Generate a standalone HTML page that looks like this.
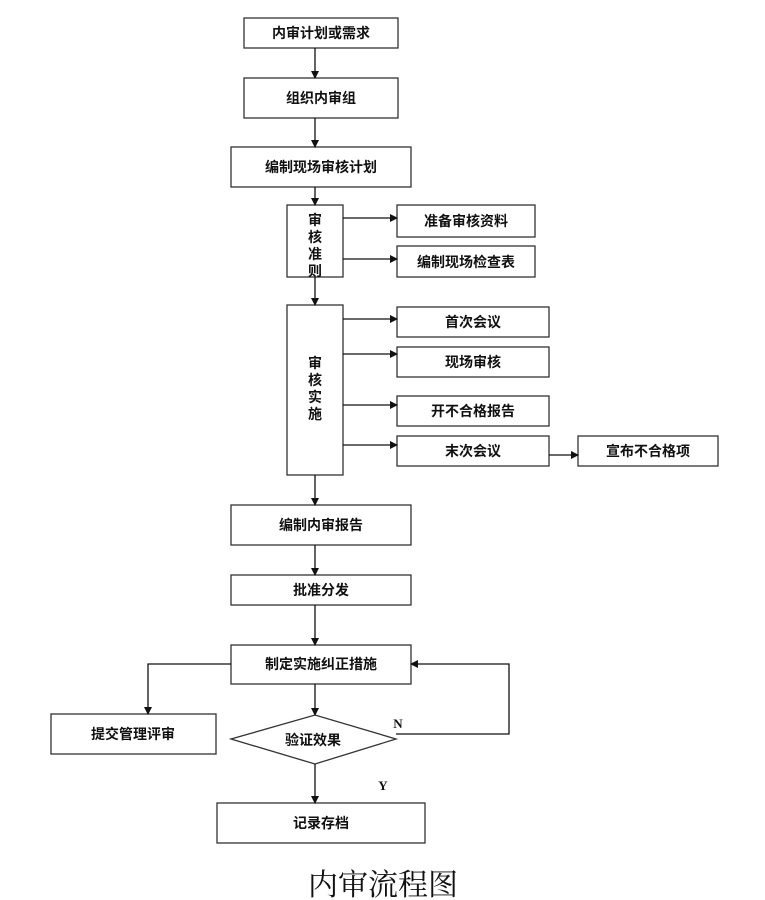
<!DOCTYPE html>
<html><head><meta charset="utf-8"><style>
html,body{margin:0;padding:0;background:#fff;}
svg{display:block}
text{font-family:"Liberation Sans","Noto Sans CJK SC",sans-serif;font-weight:bold;font-size:14px;fill:#111;}
</style></head><body>
<svg width="765" height="900" viewBox="0 0 765 900" xmlns="http://www.w3.org/2000/svg">
<defs><marker id="a" markerWidth="8" markerHeight="8" refX="7" refY="4" orient="auto" markerUnits="userSpaceOnUse"><path d="M0,0 L8,4 L0,8z" fill="#111"/></marker></defs>
<g fill="#fff" stroke="#333" stroke-width="1.3">
<rect x="244" y="18" width="154" height="30"/>
<rect x="244" y="78" width="154" height="40"/>
<rect x="231" y="147" width="180" height="40"/>
<rect x="287" y="205" width="56" height="72"/>
<rect x="397" y="205" width="138" height="32"/>
<rect x="397" y="246" width="138" height="31"/>
<rect x="287" y="305" width="56" height="170"/>
<rect x="397" y="307" width="152" height="30"/>
<rect x="397" y="347" width="152" height="30"/>
<rect x="397" y="396" width="152" height="30"/>
<rect x="397" y="436" width="152" height="30"/>
<rect x="578" y="436" width="140" height="30"/>
<rect x="231" y="505" width="180" height="40"/>
<rect x="231" y="575" width="180" height="30"/>
<rect x="231" y="645" width="180" height="39"/>
<rect x="51" y="714" width="165" height="40"/>
<polygon points="231,739 315,715 396,739 315,764"/>
<rect x="217" y="803" width="208" height="40"/>
</g>
<g stroke="#111" stroke-width="1.3" fill="none" marker-end="url(#a)">
<line x1="315" y1="48" x2="315" y2="78"/>
<line x1="315" y1="118" x2="315" y2="147"/>
<line x1="315" y1="187" x2="315" y2="205"/>
<line x1="343" y1="218" x2="397" y2="218"/>
<line x1="343" y1="259" x2="397" y2="259"/>
<line x1="315" y1="277" x2="315" y2="305"/>
<line x1="343" y1="319" x2="397" y2="319"/>
<line x1="343" y1="354" x2="397" y2="354"/>
<line x1="343" y1="405" x2="397" y2="405"/>
<line x1="343" y1="445" x2="397" y2="445"/>
<line x1="549" y1="455" x2="578" y2="455"/>
<line x1="315" y1="475" x2="315" y2="505"/>
<line x1="315" y1="545" x2="315" y2="575"/>
<line x1="315" y1="605" x2="315" y2="645"/>
<polyline points="231,664 148,664 148,714"/>
<line x1="315" y1="684" x2="315" y2="715"/>
<line x1="315" y1="764" x2="315" y2="803"/>
<polyline points="396,734 509,734 509,664 411,664"/>
</g>
<g text-anchor="middle">
<text x="321" y="38">内审计划或需求</text>
<text x="321" y="103">组织内审组</text>
<text x="321" y="172">编制现场审核计划</text>
<text x="466" y="226">准备审核资料</text>
<text x="466" y="267">编制现场检查表</text>
<text x="473" y="327">首次会议</text>
<text x="473" y="367">现场审核</text>
<text x="473" y="416">开不合格报告</text>
<text x="473" y="456">末次会议</text>
<text x="648" y="456">宣布不合格项</text>
<text x="321" y="530">编制内审报告</text>
<text x="321" y="595">批准分发</text>
<text x="321" y="669">制定实施纠正措施</text>
<text x="133" y="739">提交管理评审</text>
<text x="313" y="745">验证效果</text>
<text x="321" y="828">记录存档</text>
<text x="315" y="225">审</text><text x="315" y="242">核</text><text x="315" y="259">准</text><text x="315" y="276">则</text>
<text x="315" y="368">审</text><text x="315" y="385">核</text><text x="315" y="402">实</text><text x="315" y="419">施</text>
<text x="398" y="728" style="font-family:'Liberation Serif',serif;font-size:13px">N</text>
<text x="383" y="790" style="font-family:'Liberation Serif',serif;font-size:13px">Y</text>
<text x="383" y="895" style="font-family:'Liberation Serif','Noto Serif CJK SC',serif;font-weight:normal;font-size:30px">内审流程图</text>
</g>
</svg>
</body></html>
